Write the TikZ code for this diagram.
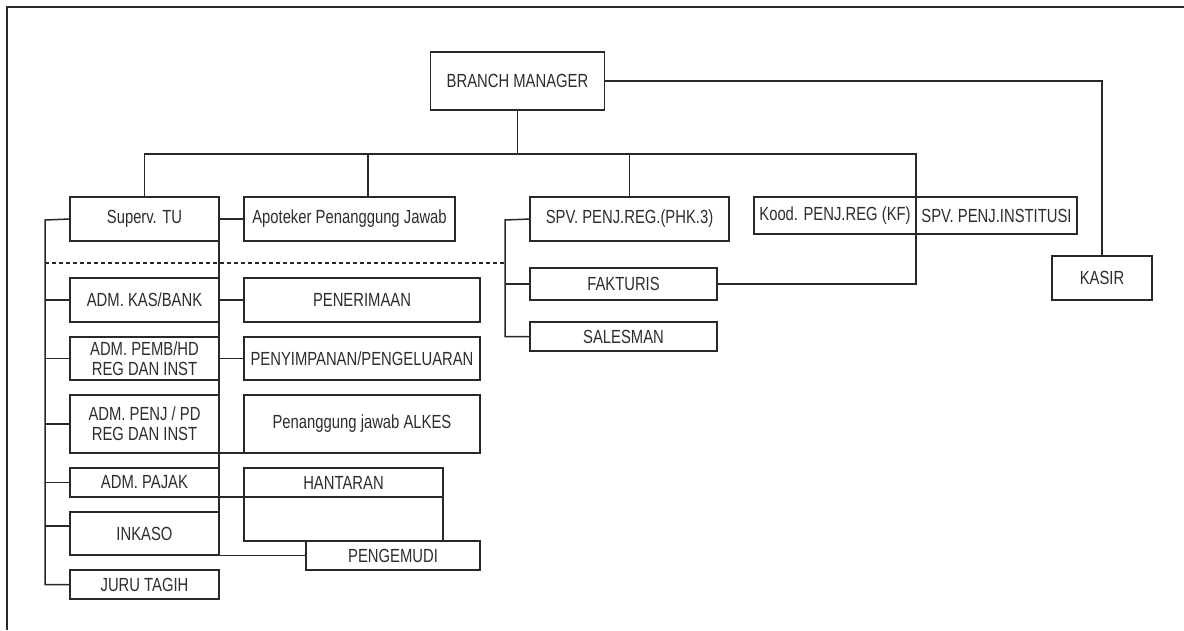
\documentclass[tikz,border=0pt]{standalone}
\usepackage{fontspec}
\setmainfont{Liberation Sans}[FakeStretch=0.78]
\definecolor{ln}{RGB}{40,40,40}
\definecolor{txt}{RGB}{45,45,45}
\begin{document}
\begin{tikzpicture}[x=1pt,y=-1pt,
  bx/.style={draw=ln,line width=1.5pt,rectangle,inner sep=0pt,outer sep=0pt,
    anchor=north west,text=txt,align=center,
    font=\fontsize{19}{20}\selectfont},
  cn/.style={draw=ln,line width=1.5pt}]
\useasboundingbox (0,0) rectangle (1184,630);
% frame
\draw[ln,line width=1.8pt] (7,630) -- (7,7) -- (1184,7);
% boxes
\node[bx,minimum width=174pt,minimum height=58pt] (bm) at (430.5,52) {BRANCH MANAGER};
\node[bx,minimum width=100pt,minimum height=44pt] (kasir) at (1052,256) {KASIR};
\node[bx,minimum width=149pt,minimum height=44pt] (stu) at (70,197) {Superv. TU};
\node[bx,minimum width=211pt,minimum height=44pt] (apo) at (244,197) {Apoteker Penanggung Jawab};
\node[bx,minimum width=199pt,minimum height=44pt] (spvreg) at (530,197) {SPV. PENJ.REG.(PHK.3)};
\node[bx,minimum width=162pt,minimum height=37pt] (kood) at (754,197) {Kood. PENJ.REG (KF)};
\node[bx,minimum width=161pt,minimum height=37pt] (spvinst) at (916,197) {SPV. PENJ.INSTITUSI};
\node[bx,minimum width=187pt,minimum height=32pt] (fakt) at (530,268) {FAKTURIS};
\node[bx,minimum width=187pt,minimum height=29pt] (sales) at (530,322) {SALESMAN};
\node[bx,minimum width=149pt,minimum height=44pt] (kas) at (70,278) {ADM. KAS/BANK};
\node[bx,minimum width=236pt,minimum height=44pt] (pener) at (244,278) {PENERIMAAN};
\node[bx,minimum width=149pt,minimum height=43pt] (pemb) at (70,337) {ADM. PEMB/HD\\REG DAN INST};
\node[bx,minimum width=236pt,minimum height=43pt] (peny) at (244,337) {PENYIMPANAN/PENGELUARAN};
\node[bx,minimum width=149pt,minimum height=58pt] (penj) at (70,395) {ADM. PENJ / PD\\REG DAN INST};
\node[bx,minimum width=236pt,minimum height=58pt] (alkes) at (244,395) {Penanggung jawab ALKES};
\node[bx,minimum width=149pt,minimum height=29pt] (pajak) at (70,468) {ADM. PAJAK};
\node[bx,minimum width=199pt,minimum height=29pt] (hant) at (244,468) {HANTARAN};
\node[bx,minimum width=199pt,minimum height=44pt] (hantb) at (244,497) {};
\node[bx,minimum width=149pt,minimum height=43pt] (inkaso) at (70,512) {INKASO};
\node[bx,minimum width=174pt,minimum height=29pt] (peng) at (306,541) {PENGEMUDI};
\node[bx,minimum width=149pt,minimum height=29pt] (juru) at (70,570) {JURU TAGIH};
% coordinates
\coordinate (busR) at (916,154);
\coordinate (lsp) at (45,220);
\coordinate (rsp) at (505,220);
\coordinate (dl) at (45,263);
\coordinate (dr) at (505,263);
% top connectors
\draw[cn] (bm.south) -- (bm.south |- busR);
\draw[cn] (stu.north) |- (busR) |- (fakt.east);
\draw[cn] ([xshift=18.5pt]apo.north) -- ([xshift=18.5pt]apo.north |- busR);
\draw[cn] (spvreg.north) -- (spvreg.north |- busR);
\draw[cn] (bm.east) -| (kasir.north);
\draw[cn] (stu.east) -- (apo.west);
% left spine
\draw[cn] (stu.west) -- (lsp) |- (juru.west);
\draw[cn] (kas.west) -- (kas.west -| lsp);
\draw[cn] (pemb.west) -- (pemb.west -| lsp);
\draw[cn] (penj.west) -- (penj.west -| lsp);
\draw[cn] (pajak.west) -- (pajak.west -| lsp);
\draw[cn] ([yshift=7.5pt]inkaso.west) -- ([yshift=7.5pt]inkaso.west -| lsp);
% superv right spine
\draw[cn] (stu.south east) |- (peng.west);
\draw[cn] (kas.east) -- (pener.west);
\draw[cn] (pemb.east) -- (peny.west);
\draw[cn] (penj.south east) -- (alkes.south west);
\draw[cn] (pajak.south east) -- (hant.south west);
% right spine
\draw[cn] (spvreg.west) -- (rsp) |- (sales.west);
\draw[cn] (fakt.west) -- (fakt.west -| rsp);
% dashed line
\draw[ln,line width=1.3pt,dash pattern=on 4pt off 3pt] (dl) -- (dr);
\end{tikzpicture}
\end{document}
